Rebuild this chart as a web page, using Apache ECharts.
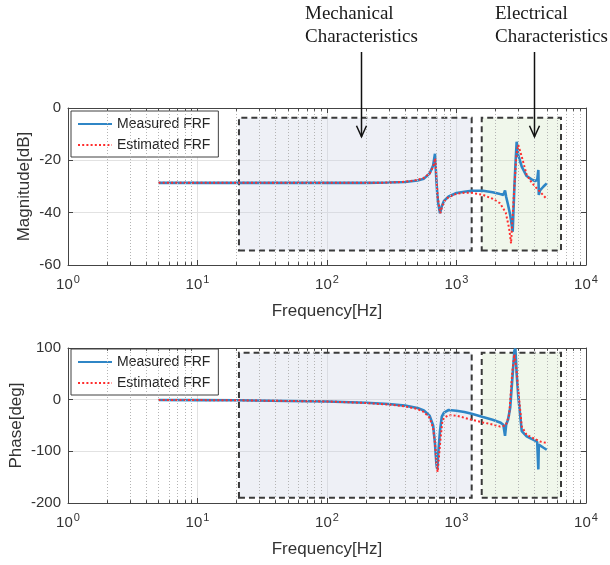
<!DOCTYPE html>
<html>
<head>
<meta charset="UTF-8">
<title>FRF</title>
<script src="https://cdn.jsdelivr.net/npm/echarts@6/dist/echarts.min.js"></script>
<style>
	html, body { margin: 0; padding: 0; background: #fff; }
	#chart { width: 610px; height: 565px; }
</style>
</head>
<body>
<div id="chart"></div>
<script>
// measured FRF (Hz, dB, deg)
var measFreq  = [5, 10, 20, 50, 100, 200, 300, 400, 500, 560, 620, 660, 682, 700, 711, 720, 746, 770, 800, 870, 1000, 1150, 1310, 1600, 1900, 2170, 2300, 2370, 2420, 2500, 2600, 2716, 2800, 2850, 2915, 3000, 3190, 3480, 3800, 4036, 4200, 4285, 4320, 4414, 4700, 4974];
var measMag   = [-28.6, -28.6, -28.6, -28.6, -28.6, -28.6, -28.5, -28.3, -27.7, -27, -25, -22, -17.5, -28, -33, -36, -40.2, -37.5, -35.5, -33.8, -32.5, -32, -31.6, -31.6, -32.2, -32.9, -33.2, -31.5, -34, -37, -41, -47.3, -30, -22, -12.9, -18, -22.4, -26, -27.3, -27.9, -27.5, -23.7, -33.2, -31.5, -30, -28.8];
var measPhase = [-0.5, -0.8, -1.2, -2.5, -3.5, -6, -8.5, -11.5, -16, -21, -31, -50, -85, -125, -135, -110, -60, -33, -25, -20, -21.5, -24, -27.3, -33.7, -39, -44, -48.5, -70, -48, -39, -15, 50, 95, 99, 50, 6, -61, -71, -76, -79, -82, -135, -87, -88, -93, -97];

// estimated FRF
var estFreq  = [5, 10, 20, 50, 100, 200, 300, 400, 500, 560, 620, 660, 686, 700, 715, 750, 775, 800, 870, 1000, 1150, 1310, 1600, 1900, 2170, 2400, 2550, 2637, 2700, 2800, 2900, 3000, 3190, 3480, 3800, 4036, 4414, 4974];
var estMag   = [-28.6, -28.6, -28.6, -28.6, -28.6, -28.6, -28.5, -28.2, -27.5, -26.7, -25, -22.5, -19.2, -27, -34, -40.2, -37.5, -35.8, -34, -32.8, -32.4, -32.4, -33.2, -34.7, -36.4, -40, -46, -51.7, -43, -30, -18, -14.1, -18.6, -25.5, -28.5, -30, -32, -34.8];
var estPhase = [-0.5, -0.8, -1.2, -2.5, -3.5, -6.5, -9.5, -13, -18, -24, -35, -55, -90, -125, -140, -80, -45, -35, -30, -31, -35, -39, -44, -48, -52, -50, -30, 20, 55, 88, 60, 19, -52, -68, -73, -76, -81, -84];

// axes
var freqRange  = [1, 10000];
var magRange   = [-60, 0];
var phaseRange = [-200, 100];
var minorFreq  = [2, 3, 4, 5, 6, 7, 8, 9, 20, 30, 40, 50, 60, 70, 80, 90, 200, 300, 400, 500, 600, 700, 800, 900, 2000, 3000, 4000, 5000, 6000, 7000, 8000, 9000];

// highlighted regions
var mechFreq      = [20.9, 1310];
var elecFreq      = [1566, 6412];
var magBoxRange   = [-54.5, -3.7];
var phaseBoxRange = [-190, 91];
var arrowFreq     = [183, 4000];

var axisColor = '#444', textColor = '#333';

function pairs(f, v) {
	return f.map(function(x, i) { return [x, v[i]]; });
}

function boxes(r) {
	return [
		[{xAxis: mechFreq[0], yAxis: r[0], itemStyle: {color: 'rgba(200,206,224,0.3)'}}, {xAxis: mechFreq[1], yAxis: r[1]}],
		[{xAxis: elecFreq[0], yAxis: r[0], itemStyle: {color: 'rgba(205,228,190,0.3)'}}, {xAxis: elecFreq[1], yAxis: r[1]}]
	];
}

// dotted minor grid plus short minor ticks on the top and bottom edges
function minorLines(range, tick) {
	var out = minorFreq.map(function(f) { return {xAxis: f}; });
	var edge = {lineStyle: {color: axisColor, type: 'solid', width: 1}};
	minorFreq.forEach(function(f) {
		out.push([{coord: [f, range[1]], lineStyle: edge.lineStyle}, {coord: [f, range[1] - tick]}]);
		out.push([{coord: [f, range[0]], lineStyle: edge.lineStyle}, {coord: [f, range[0] + tick]}]);
	});
	return out;
}

function xAxes(g) {
	return [{
		gridIndex: g, type: 'log', logBase: 10, min: freqRange[0], max: freqRange[1], position: 'bottom',
		axisLine: {onZero: false, lineStyle: {color: axisColor, width: 1}},
		axisTick: {inside: true, length: 5, lineStyle: {color: axisColor}},
		splitLine: {show: true, lineStyle: {color: '#e2e2e2'}},
		axisLabel: {
			margin: 9,
			formatter: function(v) { return '{b|10}{s|' + Math.round(Math.log10(v)) + '}'; },
			rich: {
				b: {fontSize: 15, color: textColor, fontFamily: 'Liberation Sans'},
				s: {fontSize: 11, color: textColor, fontFamily: 'Liberation Sans', padding: [0, 0, 10, 1]}
			}
		},
		name: 'Frequency[Hz]', nameLocation: 'middle', nameGap: 38, nameMoveOverlap: false,
		nameTextStyle: {fontSize: 17, color: textColor, fontFamily: 'Liberation Sans'}
	}, {
		gridIndex: g, type: 'log', logBase: 10, min: freqRange[0], max: freqRange[1], position: 'top',
		axisLine: {onZero: false, lineStyle: {color: axisColor, width: 1}},
		axisTick: {inside: true, length: 5, lineStyle: {color: axisColor}},
		axisLabel: {show: false}, splitLine: {show: false}
	}];
}

function yAxes(g, range, step, name, gap) {
	return [{
		gridIndex: g, type: 'value', min: range[0], max: range[1], interval: step, position: 'left',
		axisLine: {show: true, onZero: false, lineStyle: {color: axisColor, width: 1}},
		axisTick: {show: true, inside: true, length: 5, lineStyle: {color: axisColor}},
		splitLine: {show: true, lineStyle: {color: '#e2e2e2'}},
		axisLabel: {fontSize: 15, color: textColor, fontFamily: 'Liberation Sans', margin: 7},
		name: name, nameLocation: 'middle', nameGap: gap, nameRotate: 90, nameMoveOverlap: false,
		nameTextStyle: {fontSize: 17, color: textColor, fontFamily: 'Liberation Sans'}
	}, {
		gridIndex: g, type: 'value', min: range[0], max: range[1], interval: step, position: 'right',
		axisLine: {show: true, onZero: false, lineStyle: {color: axisColor, width: 1}},
		axisTick: {show: true, inside: true, length: 5, lineStyle: {color: axisColor}},
		axisLabel: {show: false}, splitLine: {show: false}
	}];
}

function helper(g, boxRange, range, tick) {
	return {
		type: 'line', xAxisIndex: g * 2, yAxisIndex: g * 2, data: [], silent: true, z: 1,
		markLine: {
			silent: true, symbol: ['none', 'none'], label: {show: false},
			lineStyle: {color: '#b4b4b4', width: 1, type: [1, 2]},
			data: minorLines(range, tick)
		},
		markArea: {
			silent: true,
			itemStyle: {borderColor: '#3a3a3a', borderWidth: 2, borderType: [6, 4]},
			data: boxes(boxRange)
		}
	};
}

function legend(top) {
	return {
		left: 71, top: top, orient: 'vertical',
		data: ['Measured FRF', 'Estimated FRF'],
		itemWidth: 34, itemHeight: 14, itemGap: 7,
		padding: [6, 8, 5, 6],
		itemStyle: {opacity: 0},
		backgroundColor: '#fff', borderColor: '#404040', borderWidth: 1,
		textStyle: {fontSize: 14, color: '#262626', fontFamily: 'Liberation Sans'}
	};
}

var measStyle = {color: '#2f86c6', width: 2.6};
var estStyle  = {color: '#ff2d2d', width: 2, type: [2, 2.2]};

var chart = echarts.init(document.getElementById('chart'));

chart.setOption({
	animation: false,
	backgroundColor: '#fff',
	grid: [
		{left: 68, right: 24, top: 108, height: 157},
		{left: 68, right: 24, top: 348, height: 155}
	],
	legend: [legend(111), legend(349)],
	xAxis: xAxes(0).concat(xAxes(1)),
	yAxis: yAxes(0, magRange, 20, 'Magnitude[dB]', 35).concat(yAxes(1, phaseRange, 100, 'Phase[deg]', 43)),
	series: [
		helper(0, magBoxRange, magRange, 1.1),
		helper(1, phaseBoxRange, phaseRange, 5.5),
		{name: 'Measured FRF', type: 'line', xAxisIndex: 0, yAxisIndex: 0, symbol: 'none', z: 3,
			lineStyle: measStyle, itemStyle: {color: measStyle.color}, data: pairs(measFreq, measMag)},
		{name: 'Estimated FRF', type: 'line', xAxisIndex: 0, yAxisIndex: 0, symbol: 'none', z: 4,
			lineStyle: estStyle, itemStyle: {color: estStyle.color}, data: pairs(estFreq, estMag)},
		{name: 'Measured FRF', type: 'line', xAxisIndex: 2, yAxisIndex: 2, symbol: 'none', z: 3,
			lineStyle: measStyle, itemStyle: {color: measStyle.color}, data: pairs(measFreq, measPhase)},
		{name: 'Estimated FRF', type: 'line', xAxisIndex: 2, yAxisIndex: 2, symbol: 'none', z: 4,
			lineStyle: estStyle, itemStyle: {color: estStyle.color}, data: pairs(estFreq, estPhase)}
	]
});

// annotation arrows above the magnitude plot
var tipY = chart.convertToPixel({yAxisIndex: 0}, -11);
var graphics = [
	{type: 'text', left: 305, top: 3, style: {text: 'Mechanical\nCharacteristics', fontSize: 19, lineHeight: 23, fontFamily: 'Liberation Serif', fill: '#1a1a1a'}},
	{type: 'text', left: 495, top: 3, style: {text: 'Electrical\nCharacteristics', fontSize: 19, lineHeight: 23, fontFamily: 'Liberation Serif', fill: '#1a1a1a'}}
];
arrowFreq.forEach(function(f) {
	var x = Math.round(chart.convertToPixel({xAxisIndex: 0}, f)) + 0.5;
	graphics.push({type: 'line', shape: {x1: x, y1: 52, x2: x, y2: tipY}, style: {stroke: '#111', lineWidth: 1.5}, z: 10});
	graphics.push({type: 'polyline', shape: {points: [[x - 5, tipY - 11], [x, tipY], [x + 5, tipY - 11]]}, style: {stroke: '#111', lineWidth: 1.5, fill: null}, z: 10});
});
chart.setOption({graphic: graphics});
</script>
</body>
</html>
